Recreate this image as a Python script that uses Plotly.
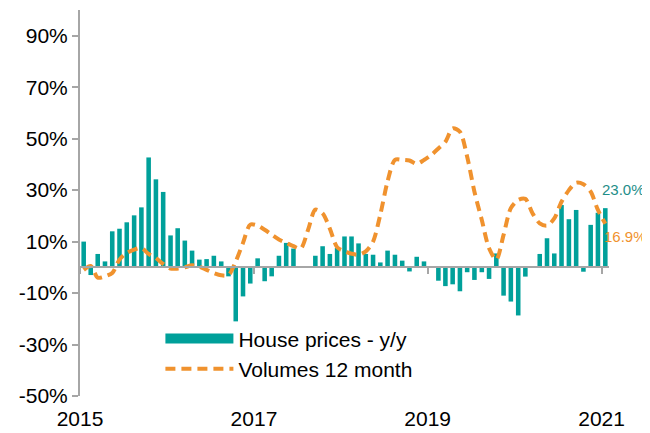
import pandas as pd
import plotly.graph_objects as go

months = [d.strftime("%Y-%m-%d") for d in pd.date_range("2015-01-01", "2021-01-01", freq="MS")]

house_prices = [10.0, -3.0, 5.2, 2.3, 14.0, 15.0, 17.5, 20.2, 23.3, 42.7, 34.2, 29.3,
                12.4, 15.2, 10.4, 6.5, 3.0, 3.2, 4.5, 2.3, -3.5, -21.0, -11.3, -6.3,
                3.5, -5.4, -3.5, 4.5, 9.5, 7.3, 0.0, 0.0, 4.5, 8.2, 5.2, 7.5,
                12.0, 12.0, 9.3, 5.2, 4.9, 1.9, 6.5, 4.9, 2.6, -1.6, 4.1, 2.3,
                0.3, -5.2, -7.3, -6.6, -9.3, -1.9, -4.9, -1.9, -4.5, 5.4, -11.0, -13.3,
                -18.7, -3.6, 0.0, 5.2, 11.3, 5.4, 24.2, 18.7, 22.3, -1.7, 16.5, 21.2,
                23.0]

volumes = [-1.0, 0.5, -4.0, -3.5, -2.2, 3.0, 5.6, 6.9, 7.5, 5.2, 3.6, 1.3,
           -0.5, -0.5, 0.0, 0.8, 0.3, -1.0, -2.2, -3.1, -3.0, 2.3, 9.5, 16.6,
           16.2, 14.6, 12.7, 10.8, 9.5, 8.2, 7.3, 14.6, 22.4, 21.0, 15.0, 7.8,
           6.2, 5.3, 4.9, 6.2, 10.0, 20.5, 33.4, 41.8, 41.8, 41.5, 40.2, 41.7,
           43.7, 46.2, 48.8, 54.0, 52.7, 43.0, 29.4, 18.4, 7.4, 3.0, 12.6, 23.0,
           26.2, 26.6, 21.0, 17.1, 16.2, 19.0, 25.5, 30.0, 32.9, 32.3, 29.4, 22.3,
           16.9]

x_ticks = ["2015-01-01", "2017-01-01", "2019-01-01", "2021-01-01"]
x_tick_labels = ["2015", "2017", "2019", "2021"]
y_ticks = [-50, -30, -10, 10, 30, 50, 70, 90]
y_tick_labels = [f"{v}%" for v in y_ticks]

TEAL = "#00A09A"
ORANGE = "#F0922E"
GRAY = "#A6A6A6"
FONT = "Liberation Sans, Arial, sans-serif"

fig = go.Figure()
fig.add_trace(go.Bar(
    x=months, y=house_prices, xperiod="M1", xperiodalignment="middle",
    marker=dict(color=TEAL, line=dict(width=0)), name="House prices - y/y",
    showlegend=False, xaxis="x", yaxis="y",
))
# legend proxy for bar (wide teal block)
fig.add_trace(go.Scatter(
    x=[None], y=[None], mode="lines", line=dict(color=TEAL, width=11),
    name="House prices - y/y", xaxis="x", yaxis="y",
))
fig.add_trace(go.Scatter(
    x=months, y=volumes, xperiod="M1", xperiodalignment="middle",
    mode="lines", line=dict(color=ORANGE, width=4, dash="10px,6px", shape="spline", smoothing=0.8),
    name="Volumes 12 month", xaxis="x2", yaxis="y",
))

x_range = ["2015-01-01", "2021-02-01"]
# page body adds an 8px offset; the figure is sized so the plot lands where the reference has it
fig.update_layout(
    width=642, height=425,
    margin=dict(l=72, r=41, t=2, b=37),
    paper_bgcolor="white", plot_bgcolor="white",
    font=dict(family=FONT, size=21, color="#000000"),
    bargap=0.35,
    xaxis=dict(
        type="date", range=x_range, tickvals=x_ticks, ticktext=x_tick_labels,
        showline=False, showgrid=False, zeroline=False, automargin=False,
        ticks="outside", ticklen=4, tickcolor="rgba(0,0,0,0)",
        tickfont=dict(size=21, color="#000000"),
    ),
    xaxis2=dict(
        type="date", range=x_range, overlaying="x", anchor="free", position=1/3,
        side="bottom", tickvals=x_ticks, showticklabels=False, automargin=False,
        showline=True, linecolor=GRAY, linewidth=2, showgrid=False, zeroline=False,
        ticks="outside", ticklen=6, tickcolor=GRAY, tickwidth=2,
    ),
    yaxis=dict(
        range=[-50, 100], tickvals=y_ticks, ticktext=y_tick_labels, automargin=False,
        showline=True, linecolor=GRAY, linewidth=2, showgrid=False, zeroline=False,
        ticks="outside", ticklen=6, tickcolor=GRAY, tickwidth=2,
        tickfont=dict(size=21, color="#000000"),
    ),
    legend=dict(
        x=0.152, y=0.201, xanchor="left", yanchor="top",
        bgcolor="rgba(0,0,0,0)", itemwidth=68, tracegroupgap=0,
        font=dict(size=21, color="#000000"),
    ),
)

fig.add_annotation(
    x=months[-1], y=house_prices[-1], xref="x", yref="y",
    text=f"{house_prices[-1]:.1f}%", showarrow=False,
    xanchor="left", yanchor="middle", xshift=-2, yshift=19,
    font=dict(family=FONT, size=15, color="#1E8E89"),
)
fig.add_annotation(
    x=months[-1], y=volumes[-1], xref="x", yref="y",
    text=f"{volumes[-1]:.1f}%", showarrow=False,
    xanchor="left", yanchor="middle", xshift=0, yshift=-13,
    font=dict(family=FONT, size=15, color=ORANGE),
)

fig.write_html("out.html")
